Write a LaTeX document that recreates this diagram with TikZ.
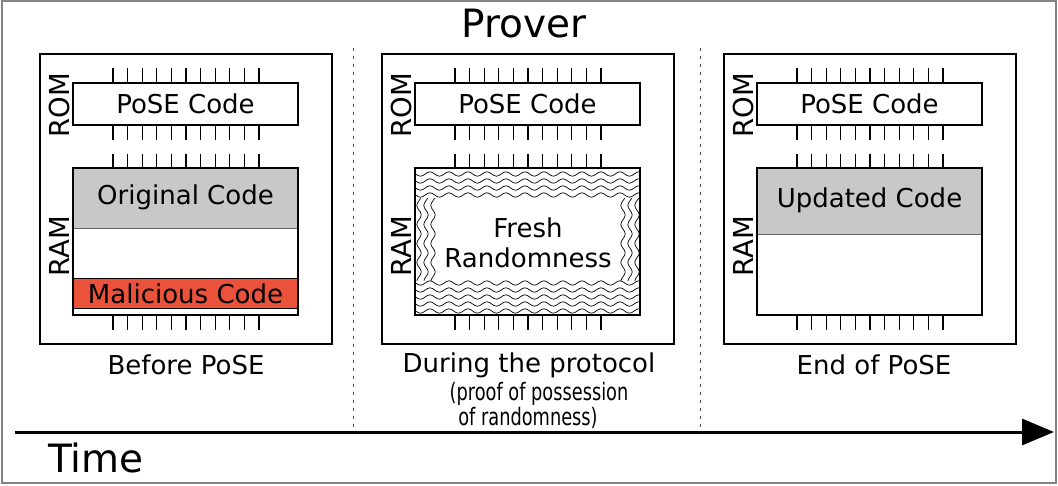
\documentclass[tikz,border=0pt]{standalone}
\usepackage{fontspec}
\usepackage{graphicx}
\setmainfont{DejaVu Sans}
\usetikzlibrary{decorations.pathmorphing,arrows.meta}
\definecolor{codegray}{RGB}{200,200,200}
\definecolor{malred}{RGB}{234,82,60}
\definecolor{framegray}{RGB}{130,130,130}
\newcommand{\cond}[1]{\scalebox{0.74}[1]{#1}}
\tikzset{
  lbl/.style={font=\fontsize{26}{30}\selectfont, inner sep=0pt, anchor=center},
  sidelbl/.style={font=\fontsize{27.5}{30}\selectfont, inner sep=0pt, anchor=center, rotate=90},
  small/.style={font=\fontsize{24}{28}\selectfont, inner sep=0pt, anchor=center},
  big/.style={font=\fontsize{39}{44}\selectfont, inner sep=0pt, anchor=center},
  panelbox/.style={draw=black, line width=2.4pt},
  rombox/.style={draw=black, line width=1.3pt, fill=white},
  rambox/.style={draw=black, line width=2pt},
  pin/.style={draw=black, line width=1.3pt},
  sep/.style={draw=black!70, line width=0.8pt, dash pattern=on 3pt off 5pt},
  wave/.style={draw=black, line width=0.7pt, decorate, decoration={snake, segment length=19pt, amplitude=2.2pt}}
}
\begin{document}
\begin{tikzpicture}[x=1pt,y=-1pt]
\useasboundingbox (0,0) rectangle (1058,485);
\draw[framegray, line width=1.5pt] (2,1) rectangle (1056,483);

\node[big] (prover) at (524,24) {Prover};

% separators
\coordinate (s1a) at (353,48); \coordinate (s1b) at (353,432);
\coordinate (s2a) at (700,48); \coordinate (s2b) at (700,432);
\draw[sep] (s1a) -- (s1b);
\draw[sep] (s2a) -- (s2b);

% panels
\foreach \L/\n in {40/a,382/b,724/c}{
  \draw[panelbox] (\L,54) rectangle (\L+292,344);
  \draw[rombox] (\L+33,83) rectangle (\L+258,125);
  \node[lbl] (pose\n) at (\L+145.5,104) {PoSE Code};
  \node[sidelbl] (rom\n) at (\L+19,105) {ROM};
  \node[sidelbl] (ram\n) at (\L+19,246) {RAM};
  \foreach \i in {0,...,10}{
    \draw[pin] (\L+73+14.6*\i,68) -- (\L+73+14.6*\i,82);
    \draw[pin] (\L+73+14.6*\i,126) -- (\L+73+14.6*\i,140);
    \draw[pin] (\L+73+14.6*\i,154) -- (\L+73+14.6*\i,168);
    \draw[pin] (\L+73+14.6*\i,316) -- (\L+73+14.6*\i,330);
  }
}

% panel 1 RAM
\fill[white] (73,168) rectangle (298,315);
\fill[codegray] (73,168) rectangle (298,228);
\draw[black!60, line width=0.8pt] (73,228) -- (298,228);
\fill[malred] (73,278) rectangle (298,308);
\draw[black, line width=1pt] (73,278) -- (298,278);
\draw[black, line width=0.8pt] (73,308) -- (298,308);
\draw[rambox] (73,168) rectangle (298,315);
\node[lbl] (orig) at (185.5,197) {Original Code};
\node[lbl] (mal) at (185.5,294) {Malicious Code};

% panel 2 RAM with random waves
\fill[white] (415,168) rectangle (640,315);
\begin{scope}
  \clip (415,168) rectangle (640,198);
  \foreach \y in {174,181,188,195}{\draw[wave] (405,\y) -- (650,\y);}
\end{scope}
\begin{scope}
  \clip (415,280) rectangle (640,315);
  \foreach \y in {283,290,297,304,311}{\draw[wave] (405,\y) -- (650,\y);}
\end{scope}
\begin{scope}
  \clip (415,198) rectangle (437,280);
  \foreach \x in {419,426,433}{\draw[wave] (\x,190) -- (\x,290);}
\end{scope}
\begin{scope}
  \clip (620,198) rectangle (640,280);
  \foreach \x in {623,630,637}{\draw[wave] (\x,190) -- (\x,290);}
\end{scope}
\draw[rambox] (415,168) rectangle (640,315);
\node[lbl] (fresh) at (528,228) {Fresh};
\node[lbl] (rand) at (528,258) {Randomness};

% panel 3 RAM
\fill[white] (757,168) rectangle (982,315);
\fill[codegray] (757,168) rectangle (982,234);
\draw[black!60, line width=0.8pt] (757,234) -- (982,234);
\draw[rambox] (757,168) rectangle (982,315);
\node[lbl] (upd) at (869.5,200) {Updated Code};

% captions
\node[lbl] (before) at (186,365) {Before PoSE};
\node[lbl] (during) at (529,365) {During the protocol};
\node[small] (proof) at (539,394) {\cond{(proof of possession}};
\node[small] (ofrand) at (528,418) {\cond{of randomness)}};
\node[lbl] (endp) at (874,365) {End of PoSE};

% time arrow
\coordinate (t0) at (15,432);
\coordinate (t1) at (1054,432);
\draw[line width=3pt, -{Triangle[length=32pt,width=26pt]}] (t0) -- (t1);
\node[big] (time) at (96,458) {Time};
\end{tikzpicture}
\end{document}
